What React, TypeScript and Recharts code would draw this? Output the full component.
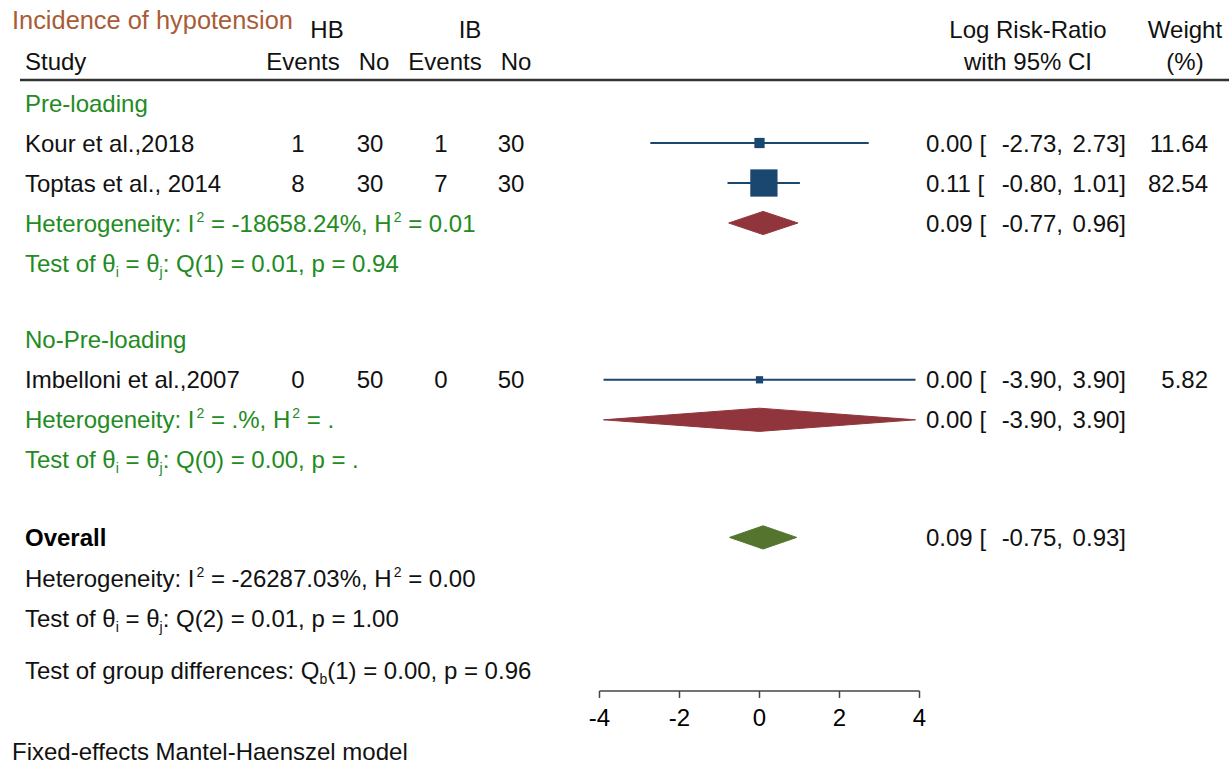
import React from "react";
import { ScatterChart, Scatter, XAxis, YAxis } from "recharts";

// ---------------- data ----------------
const studyNames = ["Kour et al.,2018", "Toptas et al., 2014", "Imbelloni et al.,2007"];
const hbEvents = [1, 8, 0];
const hbNo = [30, 30, 50];
const ibEvents = [1, 7, 0];
const ibNo = [30, 30, 50];
const studyEst = [0.0, 0.11, 0.0];
const studyLow = [-2.73, -0.8, -3.9];
const studyHigh = [2.73, 1.01, 3.9];
const studyWeight = [11.64, 82.54, 5.82];

const groupNames = ["Pre-loading", "No-Pre-loading"];
const groupEst = [0.09, 0.0];
const groupLow = [-0.77, -3.9];
const groupHigh = [0.96, 3.9];
const groupI2 = ["-18658.24%", ".%"];
const groupH2 = ["0.01", "."];
const groupQdf = [1, 0];
const groupQ = ["0.01", "0.00"];
const groupP = ["0.94", "."];

const overallEst = 0.09;
const overallLow = -0.75;
const overallHigh = 0.93;
const overallI2 = "-26287.03%";
const overallH2 = "0.00";
const overallQdf = 2;
const overallQ = "0.01";
const overallP = "1.00";

const groupDiffDf = 1;
const groupDiffQ = "0.00";
const groupDiffP = "0.96";

const xTicks = [-4, -2, 0, 2, 4];

// ---------------- layout ----------------
const W = 1229;
const H = 765;
const FONT = "'Liberation Sans', Arial, Helvetica, sans-serif";
const FS = 24;
const XAXIS_H = 40;
const MARGIN = { top: 23, left: 599.5, right: W - 919.5, bottom: H - 691 - XAXIS_H };
const Y_DOMAIN: [number, number] = [-2, 14.7];

// row positions (in row units)
const ROW_GROUP_HEAD = [0, 5.92];
const ROW_STUDY = [1, 2, 6.92];
const ROW_GROUP_HET = [3, 7.92];
const ROW_GROUP_TEST = [4, 8.92];
const ROW_OVERALL = 10.86;
const ROW_OVERALL_HET = 11.875;
const ROW_OVERALL_TEST = 12.88;
const ROW_GROUP_DIFF = 14.18;
const DIAMOND_HALF = 0.29;

const COL = { name: 25, hbEv: 298, hbNo: 370, ibEv: 441, ibNo: 511, est: 926, low: 1063, high: 1126, wt: 1208 };

const C_TEXT = "#111";
const C_GREEN = "#228b22";
const C_TITLE = "#a95c36";
const C_STUDY = "#1a476f";
const C_GROUP = "#90353b";
const C_OVERALL = "#55752f";

const f2 = (v: number) => v.toFixed(2);

type Seg = { t: string; sup?: boolean; sub?: boolean };

function Rich({ x, y, segs, fill, fontWeight }: { x: number; y: number; segs: Seg[]; fill: string; fontWeight?: string }) {
  let shift = 0;
  const nodes = segs.map((s, i) => {
    const target = s.sup ? -10 : s.sub ? 5 : 0;
    const dy = target - shift;
    shift = target;
    return (
      <tspan key={i} dy={dy} dx={s.sup ? 2 : 0} fontSize={s.sup || s.sub ? 14 : FS}>
        {s.t}
      </tspan>
    );
  });
  return (
    <text x={x} y={y} fill={fill} fontFamily={FONT} fontSize={FS} fontWeight={fontWeight} style={{ whiteSpace: "pre" }}>
      {nodes}
    </text>
  );
}

function T({ x, y, children, anchor = "start", fill = C_TEXT, weight }: any) {
  return (
    <text x={x} y={y} textAnchor={anchor} fill={fill} fontFamily={FONT} fontSize={FS} fontWeight={weight} style={{ whiteSpace: "pre" }}>
      {children}
    </text>
  );
}

function CiText({ y, est, lo, hi }: { y: number; est: number; lo: number; hi: number }) {
  return (
    <g>
      <T x={COL.est} y={y}>{`${f2(est)} [`}</T>
      <T x={COL.low} y={y} anchor="end">{`${f2(lo)},`}</T>
      <T x={COL.high} y={y} anchor="end">{`${f2(hi)}]`}</T>
    </g>
  );
}

const hetSegs = (i2: string, h2: string): Seg[] => [
  { t: "Heterogeneity: I" },
  { t: "2", sup: true },
  { t: ` = ${i2}, H` },
  { t: "2", sup: true },
  { t: ` = ${h2}` },
];
const testSegs = (df: number, q: string, p: string): Seg[] => [
  { t: "Test of θ" },
  { t: "i", sub: true },
  { t: " = θ" },
  { t: "j", sub: true },
  { t: `: Q(${df}) = ${q}, p = ${p}` },
];

// text rows
type Row = { x: number; y: number; kind: string; i: number };
const textRows: Row[] = [
  ...groupNames.map((_, g) => ({ x: 0, y: ROW_GROUP_HEAD[g], kind: "groupHead", i: g })),
  ...studyNames.map((_, i) => ({ x: 0, y: ROW_STUDY[i], kind: "study", i })),
  ...groupNames.map((_, g) => ({ x: 0, y: ROW_GROUP_HET[g], kind: "groupHet", i: g })),
  ...groupNames.map((_, g) => ({ x: 0, y: ROW_GROUP_TEST[g], kind: "groupTest", i: g })),
  { x: 0, y: ROW_OVERALL, kind: "overall", i: 0 },
  { x: 0, y: ROW_OVERALL_HET, kind: "overallHet", i: 0 },
  { x: 0, y: ROW_OVERALL_TEST, kind: "overallTest", i: 0 },
  { x: 0, y: ROW_GROUP_DIFF, kind: "groupDiff", i: 0 },
];

function TextShape(props: any) {
  const { cy, payload } = props;
  const y = cy + 8.5;
  const i = payload.i;
  switch (payload.kind) {
    case "groupHead":
      return <T x={COL.name} y={y} fill={C_GREEN}>{groupNames[i]}</T>;
    case "study":
      return (
        <g>
          <T x={COL.name} y={y}>{studyNames[i]}</T>
          <T x={COL.hbEv} y={y} anchor="middle">{String(hbEvents[i])}</T>
          <T x={COL.hbNo} y={y} anchor="middle">{String(hbNo[i])}</T>
          <T x={COL.ibEv} y={y} anchor="middle">{String(ibEvents[i])}</T>
          <T x={COL.ibNo} y={y} anchor="middle">{String(ibNo[i])}</T>
          <CiText y={y} est={studyEst[i]} lo={studyLow[i]} hi={studyHigh[i]} />
          <T x={COL.wt} y={y} anchor="end">{f2(studyWeight[i])}</T>
        </g>
      );
    case "groupHet":
      return (
        <g>
          <Rich x={COL.name} y={y} fill={C_GREEN} segs={hetSegs(groupI2[i], groupH2[i])} />
          <CiText y={y} est={groupEst[i]} lo={groupLow[i]} hi={groupHigh[i]} />
        </g>
      );
    case "groupTest":
      return <Rich x={COL.name} y={y} fill={C_GREEN} segs={testSegs(groupQdf[i], groupQ[i], groupP[i])} />;
    case "overall":
      return (
        <g>
          <T x={COL.name} y={y} weight="bold" fill="#000">Overall</T>
          <CiText y={y} est={overallEst} lo={overallLow} hi={overallHigh} />
        </g>
      );
    case "overallHet":
      return <Rich x={COL.name} y={y} fill={C_TEXT} segs={hetSegs(overallI2, overallH2)} />;
    case "overallTest":
      return <Rich x={COL.name} y={y} fill={C_TEXT} segs={testSegs(overallQdf, overallQ, overallP)} />;
    case "groupDiff":
      return (
        <Rich
          x={COL.name}
          y={y}
          fill={C_TEXT}
          segs={[
            { t: "Test of group differences: Q" },
            { t: "b", sub: true },
            { t: `(${groupDiffDf}) = ${groupDiffQ}, p = ${groupDiffP}` },
          ]}
        />
      );
    default:
      return <g />;
  }
}

// marks
const ciLines = studyNames.map((_, i) => [
  { x: studyLow[i], y: ROW_STUDY[i] },
  { x: studyHigh[i], y: ROW_STUDY[i] },
]);
const squares = studyNames.map((_, i) => ({ x: studyEst[i], y: ROW_STUDY[i], w: studyWeight[i] }));

const diamond = (lo: number, est: number, hi: number, row: number) => [
  { x: lo, y: row },
  { x: est, y: row - DIAMOND_HALF },
  { x: hi, y: row },
  { x: est, y: row + DIAMOND_HALF },
  { x: lo, y: row },
];
const groupDiamonds = groupNames.map((_, g) => diamond(groupLow[g], groupEst[g], groupHigh[g], ROW_GROUP_HET[g]));
const overallDiamond = diamond(overallLow, overallEst, overallHigh, ROW_OVERALL);

function SquareShape(props: any) {
  const { cx, cy, payload } = props;
  const side = 3.0 * Math.sqrt(payload.w);
  return <rect x={cx - side / 2} y={cy - side / 2} width={side} height={side} fill={C_STUDY} />;
}
const Empty = () => <g />;

export default function App() {
  return (
    <div style={{ position: "absolute", left: 0, top: 0, width: W, height: H, background: "#fff" }}>
      <ScatterChart width={W} height={H} margin={MARGIN}>
        <XAxis
          type="number"
          dataKey="x"
          domain={[-4, 4]}
          ticks={xTicks}
          interval={0}
          height={XAXIS_H}
          tickSize={7}
          tickMargin={11}
          axisLine={{ stroke: "#444", strokeWidth: 1.5 }}
          tickLine={{ stroke: "#444", strokeWidth: 1.5 }}
          tick={{ fontSize: FS, fill: "#000", fontFamily: FONT }}
        />
        <YAxis type="number" dataKey="y" domain={Y_DOMAIN} reversed hide />
        {ciLines.map((d, i) => (
          <Scatter
            key={`ci${i}`}
            data={d}
            shape={Empty}
            line={{ stroke: C_STUDY, strokeWidth: 2 }}
            lineType="joint"
            isAnimationActive={false}
          />
        ))}
        <Scatter data={squares} shape={SquareShape} isAnimationActive={false} />
        {groupDiamonds.map((d, g) => (
          <Scatter
            key={`gd${g}`}
            data={d}
            shape={Empty}
            line={{ stroke: C_GROUP, fill: C_GROUP, strokeWidth: 1 }}
            lineType="joint"
            isAnimationActive={false}
          />
        ))}
        <Scatter
          data={overallDiamond}
          shape={Empty}
          line={{ stroke: C_OVERALL, fill: C_OVERALL, strokeWidth: 1 }}
          lineType="joint"
          isAnimationActive={false}
        />
        <Scatter data={textRows} shape={TextShape} isAnimationActive={false} />
      </ScatterChart>
      <svg width={W} height={H} style={{ position: "absolute", left: 0, top: 0, pointerEvents: "none" }}>
        <text x={12} y={29} fill={C_TITLE} fontFamily={FONT} fontSize={25.4}>Incidence of hypotension</text>
        <T x={327} y={38} anchor="middle">HB</T>
        <T x={470} y={38} anchor="middle">IB</T>
        <T x={25} y={70}>Study</T>
        <T x={303} y={70} anchor="middle">Events</T>
        <T x={374} y={70} anchor="middle">No</T>
        <T x={445} y={70} anchor="middle">Events</T>
        <T x={516} y={70} anchor="middle">No</T>
        <T x={1028} y={38} anchor="middle">Log Risk-Ratio</T>
        <T x={1028} y={70} anchor="middle">with 95% CI</T>
        <T x={1185} y={38} anchor="middle">Weight</T>
        <T x={1185} y={70} anchor="middle">(%)</T>
        <line x1={20} x2={W} y1={80} y2={80} stroke="#333" strokeWidth={2.5} />
        <T x={12} y={760}>Fixed-effects Mantel-Haenszel model</T>
      </svg>
    </div>
  );
}
